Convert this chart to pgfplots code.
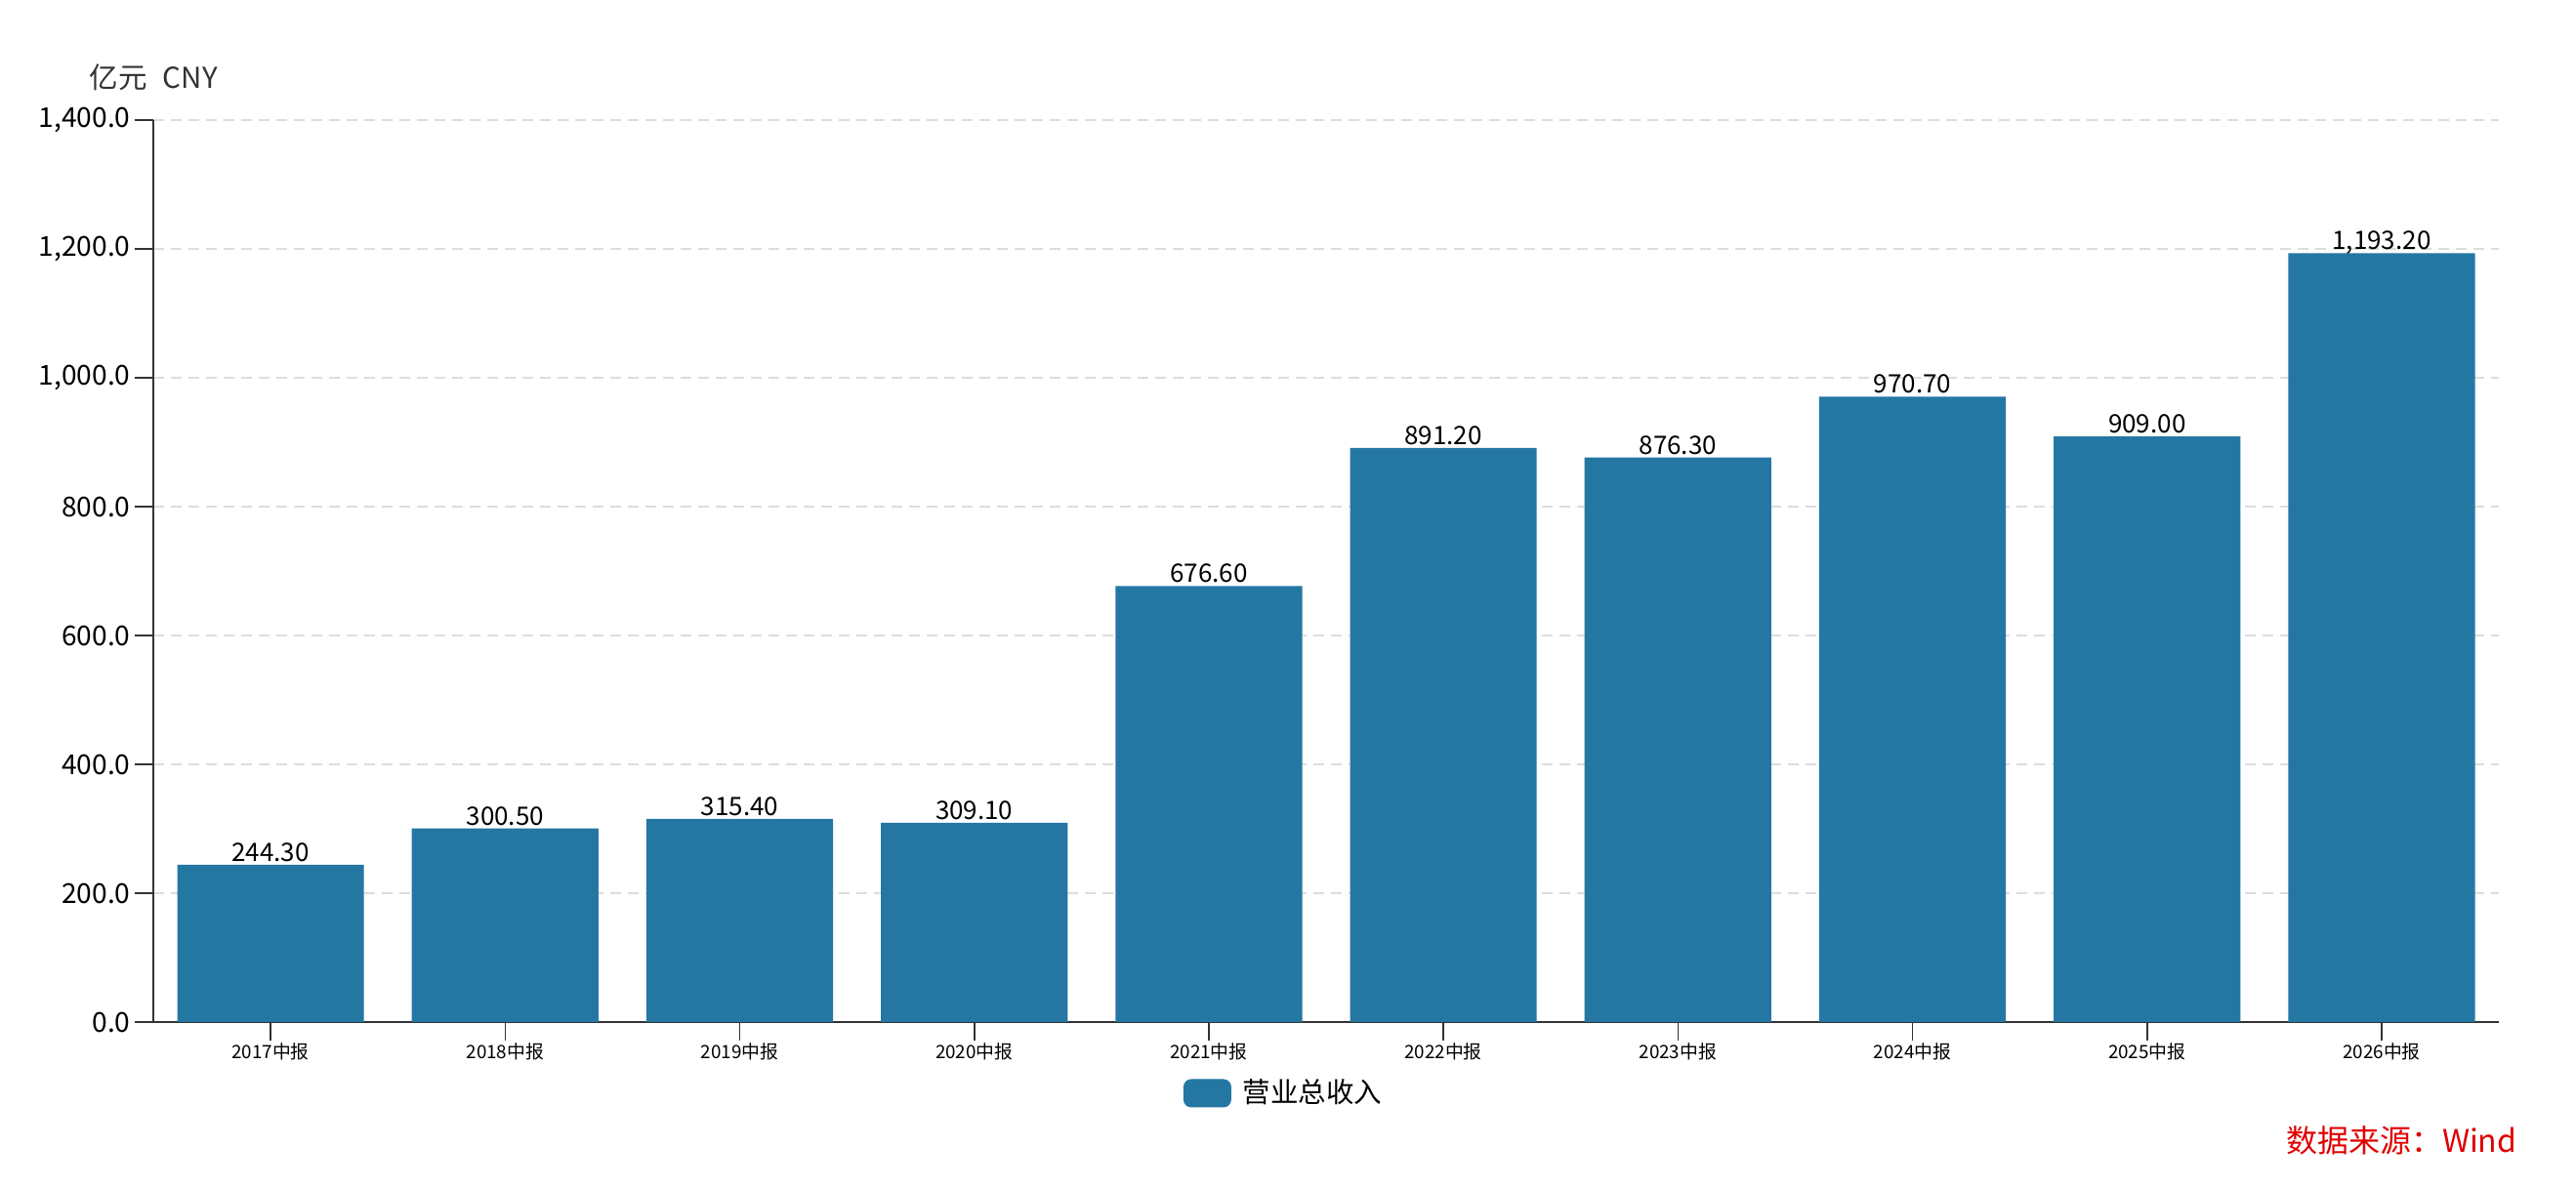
\documentclass[border=0pt]{standalone}
\usepackage{pgfplots}
\pgfplotsset{compat=1.18}
\usepackage{fontspec}
\setmainfont{Noto Sans CJK SC}
\definecolor{barblue}{RGB}{36,119,163}
\definecolor{gridgray}{RGB}{221,221,221}
\definecolor{axgray}{RGB}{51,51,51}
\definecolor{srcred}{RGB}{224,0,0}
\begin{document}
\begin{tikzpicture}
\useasboundingbox (-1.57cm,-1.69cm) rectangle (24.81cm,10.47cm);
\begin{axis}[
  at={(0,0)}, anchor=south west,
  scale only axis,
  width=24.02cm, height=9.24cm,
  xmin=-0.5, xmax=9.5,
  ymin=0, ymax=1400,
  ytick={0,200,...,1400},
  xtick={0,...,9},
  xticklabels={2017中报,2018中报,2019中报,2020中报,2021中报,2022中报,2023中报,2024中报,2025中报,2026中报},
  axis x line*=bottom,
  axis y line*=left,
  axis line style={axgray, line width=0.45pt},
  tick align=outside,
  major tick length=1.9mm,
  tick style={axgray, line width=0.45pt},
  ymajorgrids,
  major grid style={gridgray, line width=0.55pt, dash pattern=on 1.1mm off 0.7mm},
  y tick label style={font=\fontsize{8pt}{10pt}\selectfont, xshift=0.8mm,
    /pgf/number format/fixed, /pgf/number format/fixed zerofill, /pgf/number format/precision=1,
    /pgf/number format/1000 sep={,}, /pgf/number format/assume math mode=true},
  x tick label style={font=\fontsize{5.35pt}{7pt}\selectfont, yshift=1.0mm},
  bar width=0.796,
  ybar,
  nodes near coords,
  nodes near coords style={font=\fontsize{7.4pt}{9pt}\selectfont, black, anchor=base, inner sep=0pt, yshift=0.35mm,
    /pgf/number format/fixed, /pgf/number format/fixed zerofill, /pgf/number format/precision=2,
    /pgf/number format/1000 sep={,}, /pgf/number format/assume math mode=true},
  legend style={at={(0.484,-0.079)}, anchor=center, draw=none, fill=none,
    font=\fontsize{8.1pt}{10pt}\selectfont, inner sep=0pt,
    nodes={inner xsep=1.2mm}},
  legend image code/.code={\fill[barblue, rounded corners=0.8mm] (0cm,-1.45mm) rectangle (4.9mm,1.45mm);},
  clip=false,
]
\addplot[fill=barblue, draw=none] coordinates {
  (0,244.30) (1,300.50) (2,315.40) (3,309.10) (4,676.60)
  (5,891.20) (6,876.30) (7,970.70) (8,909.00) (9,1193.20)
};
\addlegendentry{营业总收入}
\end{axis}
\node[anchor=west, text=axgray, font=\fontsize{8.4pt}{10pt}\selectfont, inner sep=0pt] at (-0.66cm,9.68cm) {亿元\hspace{0.55em}CNY};
\node[anchor=east, text=srcred, font=\fontsize{9.1pt}{11pt}\selectfont, inner sep=0pt] at (24.21cm,-1.21cm) {数据来源：Wind};
\end{tikzpicture}
\end{document}
